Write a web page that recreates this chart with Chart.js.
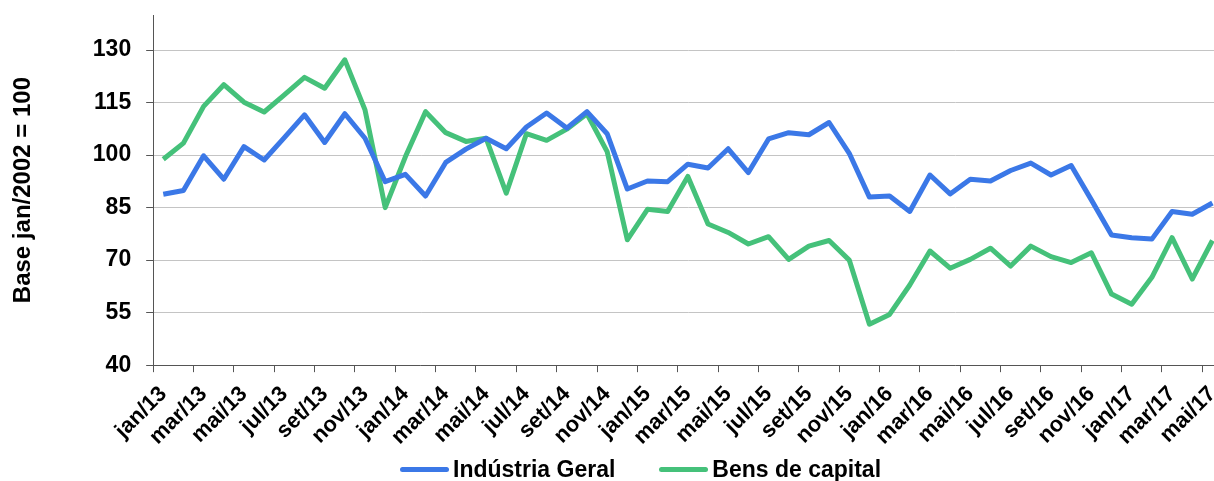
<!DOCTYPE html>
<html>
<head>
<meta charset="utf-8">
<script src="https://cdn.jsdelivr.net/npm/chart.js@4/dist/chart.umd.min.js"></script>
<style>
  html, body { margin: 0; padding: 0; background: #fff; overflow: hidden; }
  #wrap { position: relative; width: 1244px; height: 481px; }
  #legenda {
    position: absolute; left: 400px; top: 456px;
    display: flex; align-items: center;
    font: bold 23px 'Liberation Sans', Arial, sans-serif; color: #000;
  }
  #legenda .item { display: flex; align-items: center; margin-right: 44px; }
  #legenda .linha { display: inline-block; width: 49px; height: 5px; border-radius: 3px; margin-right: 4px; }
</style>
</head>
<body>
<div id="wrap">
  <canvas id="myChart"></canvas>
  <div id="legenda"></div>
</div>
<script>
// meses e anos do eixo x
var meses = ['jan', 'fev', 'mar', 'abr', 'mai', 'jun', 'jul', 'ago', 'set', 'out', 'nov', 'dez'];
var anos = ['13', '14', '15', '16', '17'];
var ultimoMes = 4; // mai/17

var labels = [];
anos.forEach(function (a, ai) {
  meses.forEach(function (m, mi) {
    if (ai < anos.length - 1 || mi <= ultimoMes) labels.push(m + '/' + a);
  });
});

// Base jan/2002 = 100
var industriaGeral = [88.8, 89.9, 99.8, 93.1, 102.4, 98.6, 105.0, 111.5, 103.6, 111.8, 104.8, 92.4,
  94.5, 88.3, 97.9, 101.7, 104.8, 101.8, 108.0, 112.0, 107.7, 112.4, 106.1, 90.3,
  92.6, 92.4, 97.4, 96.3, 101.8, 95.0, 104.6, 106.4, 105.8, 109.3, 100.5, 88.0,
  88.3, 83.9, 94.3, 88.9, 93.1, 92.6, 95.6, 97.7, 94.3, 97.0, 87.2, 77.2,
  76.4, 76.0, 83.9, 83.1, 86.3];
var bensCapital = [98.8, 103.4, 113.9, 120.1, 115.1, 112.3, 117.2, 122.2, 119.1, 127.2, 112.9, 85.0,
  99.5, 112.4, 106.4, 103.9, 104.8, 89.1, 106.1, 104.2, 107.4, 111.8, 101.0, 75.8,
  84.5, 83.9, 93.9, 80.3, 77.9, 74.6, 76.7, 70.2, 74.0, 75.6, 70.0, 51.7,
  54.5, 62.9, 72.6, 67.7, 70.2, 73.4, 68.3, 74.0, 71.0, 69.3, 72.1, 60.3,
  57.4, 65.1, 76.4, 64.6, 75.6];

var yTicks = [40, 55, 70, 85, 100, 115, 130];

var FONT = "'Liberation Sans', Arial, sans-serif";
var AZUL = 'rgb(59, 120, 231)';
var VERDE = 'rgb(69, 193, 122)';
var EIXO = '#555555';

var ctx = document.getElementById('myChart').getContext('2d');
var chart = new Chart(ctx, {
  type: 'line',
  data: {
    labels: labels,
    datasets: [{
      label: 'Indústria Geral',
      data: industriaGeral,
      borderColor: AZUL,
      backgroundColor: AZUL,
      borderWidth: 5,
      borderJoinStyle: 'round',
      pointRadius: 0,
      tension: 0
    }, {
      label: 'Bens de capital',
      data: bensCapital,
      borderColor: VERDE,
      backgroundColor: VERDE,
      borderWidth: 5,
      borderJoinStyle: 'round',
      pointRadius: 0,
      tension: 0
    }]
  },
  options: {
    responsive: true,
    maintainAspectRatio: false,
    animation: false,
    layout: { padding: { top: 15, right: 21.5, left: 0, bottom: 22 } },
    plugins: {
      tooltip: { enabled: false },
      legend: { display: false }
    },
    scales: {
      x: {
        offset: true,
        afterFit: function (s) { s.paddingLeft = 0; s.paddingRight = 0; },
        grid: {
          offset: true,
          drawOnChartArea: false,
          tickLength: 7,
          tickColor: function (c) { return (c.index % 2 === 0) ? EIXO : 'rgba(0,0,0,0)'; }
        },
        border: { color: EIXO, width: 1 },
        ticks: {
          autoSkip: false,
          maxRotation: 45,
          minRotation: 45,
          padding: 9,
          color: '#000',
          font: { family: FONT, size: 22, weight: 'bold' },
          callback: function (v, i) { return i % 2 === 0 ? labels[i] : ''; }
        }
      },
      y: {
        min: 40,
        max: 140,
        afterBuildTicks: function (axis) {
          axis.ticks = yTicks.map(function (v) { return { value: v }; });
        },
        afterFit: function (s) { s.paddingTop = 0; s.paddingBottom = 0; },
        grid: {
          color: '#c4c4c4',
          lineWidth: 1,
          tickLength: 7,
          tickColor: EIXO
        },
        border: { color: EIXO, width: 1 },
        ticks: {
          padding: 15,
          color: '#000',
          font: { family: FONT, size: 23, weight: 'bold' }
        },
        title: {
          display: true,
          text: 'Base jan/2002 = 100',
          color: '#000',
          font: { family: FONT, size: 24, weight: 'bold' },
          padding: { top: 9, bottom: 40 }
        }
      }
    }
  }
});

// legenda em HTML, montada a partir das séries do gráfico
var leg = document.getElementById('legenda');
chart.data.datasets.forEach(function (ds) {
  var item = document.createElement('span');
  item.className = 'item';
  var linha = document.createElement('span');
  linha.className = 'linha';
  linha.style.background = ds.borderColor;
  item.appendChild(linha);
  item.appendChild(document.createTextNode(ds.label));
  leg.appendChild(item);
});
</script>
</body>
</html>
